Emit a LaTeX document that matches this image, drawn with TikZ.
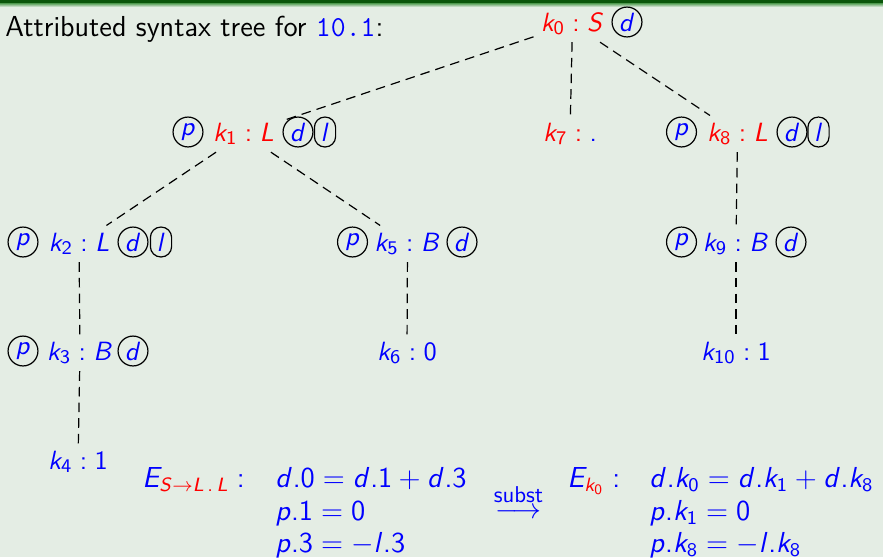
\documentclass[tikz,border=0pt]{standalone}
\usepackage{amsmath}
\renewcommand{\familydefault}{\sfdefault}
\DeclareSymbolFont{sfop}{OT1}{cmss}{m}{n}
\DeclareSymbolFont{sfsl}{OT1}{cmss}{m}{sl}
\SetSymbolFont{operators}{normal}{OT1}{cmss}{m}{n}
\DeclareMathSymbol{k}{\mathalpha}{sfsl}{`k}
\DeclareMathSymbol{S}{\mathalpha}{sfsl}{`S}
\DeclareMathSymbol{d}{\mathalpha}{sfsl}{`d}
\DeclareMathSymbol{L}{\mathalpha}{sfsl}{`L}
\DeclareMathSymbol{B}{\mathalpha}{sfsl}{`B}
\DeclareMathSymbol{p}{\mathalpha}{sfsl}{`p}
\DeclareMathSymbol{l}{\mathalpha}{sfsl}{`l}
\DeclareMathSymbol{E}{\mathalpha}{sfsl}{`E}
\DeclareMathSymbol{.}{\mathord}{sfop}{46}
\definecolor{bgc}{HTML}{E4EDE4}
\definecolor{barc}{HTML}{0B560B}
\definecolor{barl}{HTML}{4E9A4E}
\newcommand{\bigtxt}{\fontsize{12}{14.5}\selectfont}
\tikzset{
  tn/.style={anchor=base, inner sep=2.8pt},
  cd/.style={circle, draw=black, line width=0.5pt, inner sep=0pt, minimum size=12.4pt, text=blue},
  cl/.style={draw=black, line width=0.5pt, rounded corners=4.3pt, inner sep=0pt, minimum width=8.8pt, minimum height=12.4pt, text=blue},
  treeline/.style={draw=black, dash pattern=on 4pt off 2.5pt, line width=0.5pt},
  eq/.style={anchor=base west, inner sep=0pt, text=blue, font=\bigtxt}
}
\begin{document}
\begin{tikzpicture}[x=0.415pt, y=-0.415pt, font=\fontsize{10.95}{13.6}\selectfont]
\useasboundingbox (0,0) rectangle (883,557);
\fill[bgc] (0,0) rectangle (883,557);
\fill[barc] (0,0) rectangle (883,3);
\shade[top color=barl, bottom color=bgc] (0,3) rectangle (883,7);

\node[anchor=base west, inner sep=0pt, font=\bigtxt] (title) at (5,36) {Attributed syntax tree for \textcolor{blue}{\texttt{10.1}}:};

% tree nodes
\node[tn, text=red] (k0) at (572.5,31) {$k_0 : S$};
\node[tn, text=red] (k1) at (243.5,141) {$k_1 : L$};
\node[tn, text=red] (k7) at (570,141) {$k_7 : \textcolor{blue}{.}$};
\node[tn, text=red] (k8) at (737.5,141) {$k_8 : L$};
\node[tn, text=blue] (k2) at (79,251) {$k_2 : L$};
\node[tn, text=blue] (k5) at (407.5,251) {$k_5 : B$};
\node[tn, text=blue] (k9) at (736,251) {$k_9 : B$};
\node[tn, text=blue] (k3) at (80,360) {$k_3 : B$};
\node[tn, text=blue] (k6) at (407,360) {$k_6 : 0$};
\node[tn, text=blue] (k10) at (736,360) {$k_{10} : 1$};
\node[tn, text=blue] (k4) at (78,469) {$k_4 : 1$};

% attribute circles
\node[cd] (k0d) at (627,22) {$d$};
\node[cd] (k1p) at (188,132) {$p$};
\node[cd] (k1d) at (298,132) {$d$};
\node[cl] (k1l) at (325,132) {$l$};
\node[cd] (k8p) at (681.5,132) {$p$};
\node[cd] (k8d) at (792,132) {$d$};
\node[cl] (k8l) at (818.5,132) {$l$};
\node[cd] (k2p) at (23,242) {$p$};
\node[cd] (k2d) at (133,242) {$d$};
\node[cl] (k2l) at (161,242) {$l$};
\node[cd] (k5p) at (352.5,242) {$p$};
\node[cd] (k5d) at (462,242) {$d$};
\node[cd] (k9p) at (681.5,242) {$p$};
\node[cd] (k9d) at (791,242) {$d$};
\node[cd] (k3p) at (23,351) {$p$};
\node[cd] (k3d) at (133,351) {$d$};

% edges
\draw[treeline] (k0) -- (k1);
\draw[treeline] (k0) -- (k7);
\draw[treeline] (k0) -- (k8);
\draw[treeline] (k1) -- (k2);
\draw[treeline] (k1) -- (k5);
\draw[treeline] (k2) -- (k3);
\draw[treeline] (k3) -- (k4);
\draw[treeline] (k5) -- (k6);
\draw[treeline] (k8) -- (k9);
\draw[treeline] (k9) -- (k10);

% equations
\node[eq] (el) at (142,487) {$E_{\textcolor{red}{S\to L{\,}.{\,}L}} :$};
\node[eq] (el1) at (275,487) {$d.0 = d.1 + d.3$};
\node[eq] (el2) at (275,520) {$p.1 = 0$};
\node[eq] (el3) at (275,552) {$p.3 = -l.3$};
\node[anchor=base, inner sep=0pt, text=blue, font=\bigtxt] (arr) at (518.5,518.5) {$\stackrel{\mbox{\fontsize{9.5}{10}\selectfont subst}}{\longrightarrow}$};
\node[eq] (er) at (567,487) {$E_{\textcolor{red}{k_0}} :$};
\node[eq] (er1) at (649,487) {$d.k_0 = d.k_1 + d.k_8$};
\node[eq] (er2) at (649,520) {$p.k_1 = 0$};
\node[eq] (er3) at (649,552) {$p.k_8 = -l.k_8$};
\end{tikzpicture}
\end{document}
